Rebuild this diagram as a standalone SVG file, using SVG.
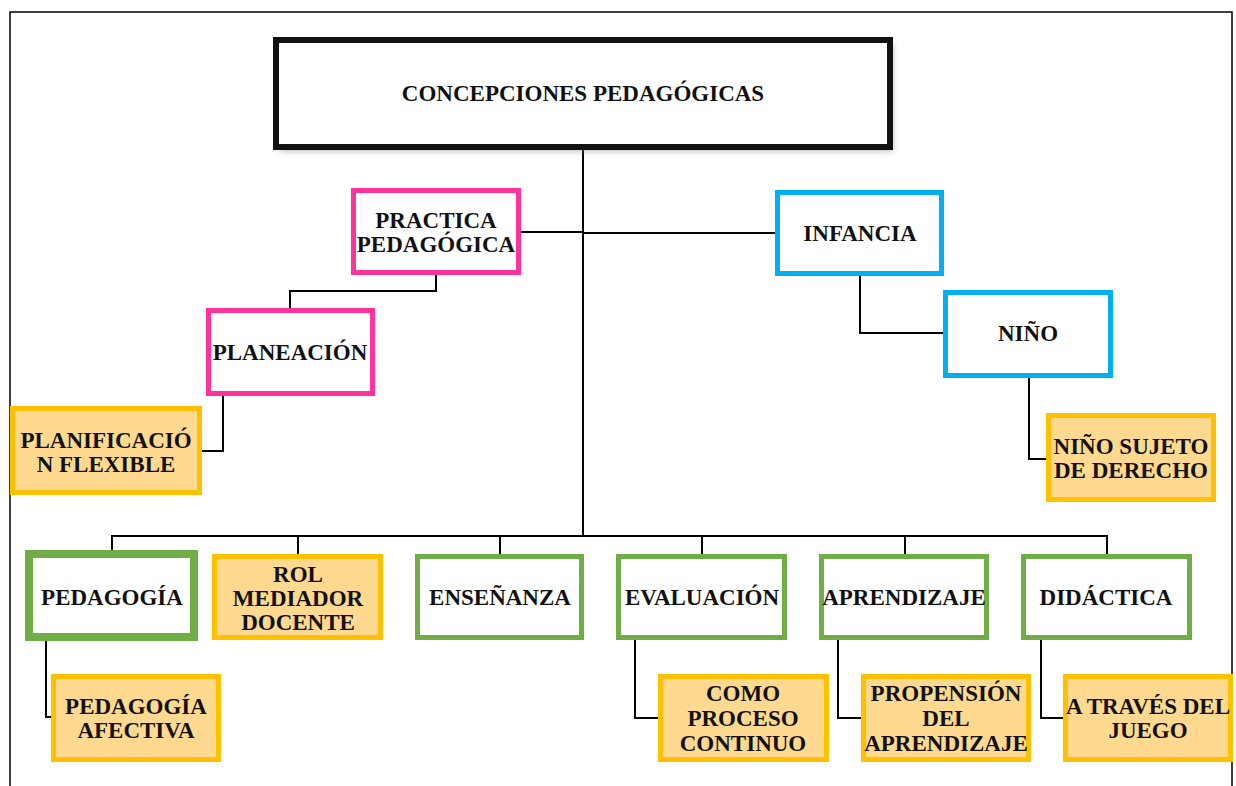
<svg xmlns="http://www.w3.org/2000/svg" width="1236" height="786" viewBox="0 0 1236 786">
<defs>
<style>
text{font-family:"Liberation Serif","Times New Roman",serif;font-weight:bold;font-size:23px;fill:#111;text-anchor:middle}
.pink{fill:#fff;stroke:#FF3399;stroke-width:5}
.cyan{fill:#fff;stroke:#00B0F0;stroke-width:5}
.green{fill:#fff;stroke:#70AD47;stroke-width:5}
.thick{stroke-width:8}
.orange{fill:#FFD98F;stroke:#FFC000;stroke-width:5}
.conn{fill:none;stroke:#000;stroke-width:2}
</style>
<filter id="sh" x="-5%" y="-10%" width="115%" height="130%"><feGaussianBlur stdDeviation="3"/></filter>
</defs>
<rect width="1236" height="786" fill="#fff"/>
<path d="M10 800 V12 H1232 V800" fill="none" stroke="#000" stroke-width="1.5"/>
<g id="connectors" class="conn">
<path class="conn" d="M583 150 V536"/>
<path class="conn" d="M521 232 H583"/>
<path class="conn" d="M583 233 H775"/>
<path class="conn" d="M436 275 V291 H290 V308"/>
<path class="conn" d="M223 396 V451 H202"/>
<path class="conn" d="M860 276 V333 H943"/>
<path class="conn" d="M1029 378 V459 H1046"/>
<path class="conn" d="M112 550 V536 H1107 V554"/>
<path class="conn" d="M298 536 V554"/>
<path class="conn" d="M500 536 V554"/>
<path class="conn" d="M702 536 V554"/>
<path class="conn" d="M905 536 V554"/>
<path class="conn" d="M46 641 V717 H51"/>
<path class="conn" d="M635 640 V718 H658"/>
<path class="conn" d="M838 640 V718 H861"/>
<path class="conn" d="M1041 640 V718 H1063"/>
</g>
<g id="title">
<rect x="279" y="44" width="614" height="107" fill="#888" filter="url(#sh)" opacity="0.6"/>
<rect x="276" y="40" width="614" height="107" fill="#fff" stroke="#111" stroke-width="6"/>
<text x="583" y="101">CONCEPCIONES PEDAGÓGICAS</text>
</g>
<g id="practica">
<rect class="pink" x="353.5" y="190.5" width="165" height="82"/>
<text x="436" y="228">PRACTICA</text>
<text x="436" y="252">PEDAGÓGICA</text>
</g>
<g id="infancia">
<rect class="cyan" x="777.5" y="192.5" width="164" height="81"/>
<text x="860" y="241">INFANCIA</text>
</g>
<g id="planeacion">
<rect class="pink" x="208.5" y="310.5" width="164" height="83"/>
<text x="290" y="360">PLANEACIÓN</text>
</g>
<g id="planificacion">
<rect class="orange" x="12.5" y="408.5" width="187" height="84"/>
<text x="106" y="448">PLANIFICACIÓ</text>
<text x="106" y="472">N FLEXIBLE</text>
</g>
<g id="nino">
<rect class="cyan" x="945.5" y="292.5" width="165" height="83"/>
<text x="1028" y="341">NIÑO</text>
</g>
<g id="nino-sujeto">
<rect class="orange" x="1048.5" y="415.5" width="165" height="84"/>
<text x="1131" y="454">NIÑO SUJETO</text>
<text x="1131" y="478">DE DERECHO</text>
</g>
<g id="pedagogia">
<rect class="green thick" x="29" y="554" width="165" height="83"/>
<text x="112" y="605">PEDAGOGÍA</text>
</g>
<g id="rol">
<rect class="orange" x="214.5" y="556.5" width="166" height="81"/>
<text x="298" y="582">ROL</text>
<text x="298" y="606">MEDIADOR</text>
<text x="298" y="630">DOCENTE</text>
</g>
<g id="ensenanza">
<rect class="green" x="417.5" y="556.5" width="164" height="81"/>
<text x="500" y="605">ENSEÑANZA</text>
</g>
<g id="evaluacion">
<rect class="green" x="618.5" y="556.5" width="166" height="81"/>
<text x="702" y="605">EVALUACIÓN</text>
</g>
<g id="aprendizaje">
<rect class="green" x="821.5" y="556.5" width="165" height="81"/>
<text x="904" y="605">APRENDIZAJE</text>
</g>
<g id="didactica">
<rect class="green" x="1023.5" y="556.5" width="166" height="81"/>
<text x="1106" y="605">DIDÁCTICA</text>
</g>
<g id="pedagogia-afectiva">
<rect class="orange" x="53.5" y="676.5" width="165" height="83"/>
<text x="136" y="714">PEDAGOGÍA</text>
<text x="136" y="738">AFECTIVA</text>
</g>
<g id="como-proceso">
<rect class="orange" x="660.5" y="676.5" width="166" height="83"/>
<text x="743" y="701">COMO</text>
<text x="743" y="726">PROCESO</text>
<text x="743" y="751">CONTINUO</text>
</g>
<g id="propension">
<rect class="orange" x="863.5" y="676.5" width="165" height="83"/>
<text x="946" y="701">PROPENSIÓN</text>
<text x="946" y="726">DEL</text>
<text x="946" y="751">APRENDIZAJE</text>
</g>
<g id="traves">
<rect class="orange" x="1065.5" y="676.5" width="165" height="83"/>
<text x="1148" y="714">A TRAVÉS DEL</text>
<text x="1148" y="738">JUEGO</text>
</g>
</svg>
